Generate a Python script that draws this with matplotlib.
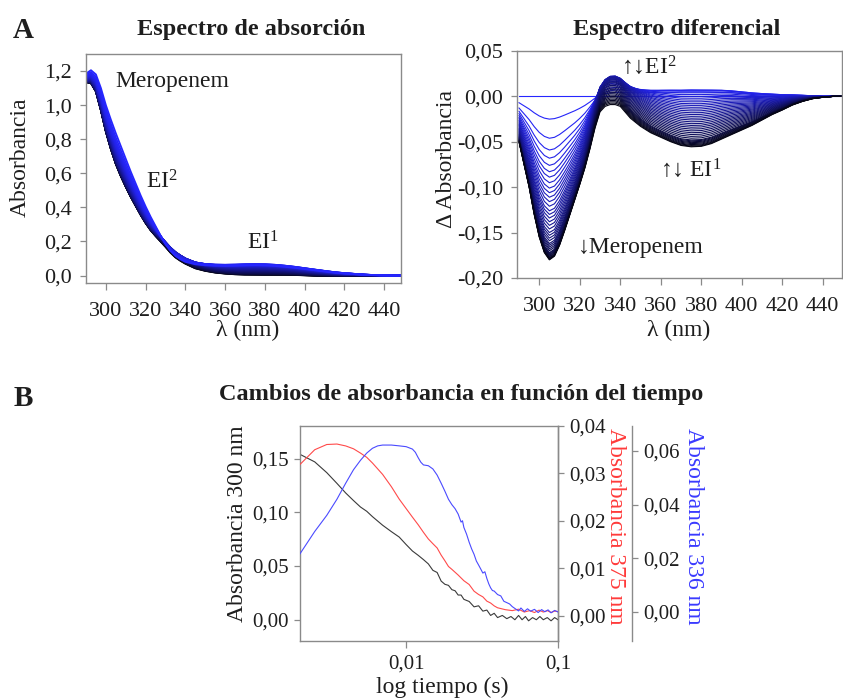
import numpy as np
import matplotlib
matplotlib.use("Agg")
import matplotlib.pyplot as plt
from matplotlib.ticker import FuncFormatter, FixedLocator, NullLocator

plt.rcParams['font.family'] = ['Liberation Serif', 'DejaVu Serif']
plt.rcParams['mathtext.fontset'] = 'custom'
plt.rcParams['mathtext.rm'] = 'Liberation Serif'
plt.rcParams['mathtext.it'] = 'Liberation Serif:italic'

# --- panel A: spectra -------------------------------------------------------
wl = [290, 292.5, 295, 297.5, 300, 302.5, 305, 307.5, 310, 312.5, 315, 317.5,
      320, 322.5, 325, 327.5, 330, 332.5, 335, 337.5, 340, 345, 350, 355, 360,
      365, 370, 375, 380, 385, 390, 395, 400, 405, 410, 415, 420, 425, 430,
      435, 440, 445, 450]

# first spectrum (meropenem)
spec_first = [1.185, 1.205, 1.18, 1.10, 1.00, 0.915, 0.835, 0.76, 0.685, 0.61,
              0.54, 0.47, 0.405, 0.345, 0.29, 0.235, 0.185, 0.145, 0.115, 0.095,
              0.080, 0.066, 0.060, 0.057, 0.056, 0.057, 0.059, 0.060, 0.059,
              0.056, 0.051, 0.045, 0.038, 0.031, 0.024, 0.017, 0.012, 0.008,
              0.004, 0.002, 0.001, 0.0, 0.0]

# difference at the end of the run (black curve)
diff_final = [-0.050, -0.075, -0.100, -0.130, -0.155, -0.172, -0.180, -0.176,
              -0.164, -0.148, -0.131, -0.114, -0.097, -0.079, -0.058, -0.035,
              -0.017, -0.011, -0.009, -0.009, -0.011, -0.024, -0.033, -0.040,
              -0.045, -0.050, -0.054, -0.0555, -0.055, -0.052, -0.047, -0.042,
              -0.037, -0.032, -0.026, -0.020, -0.015, -0.0095, -0.0055, -0.0025,
              -0.001, 0.0, 0.0]

# band of EI2 (336 nm) and EI1 (375 nm), peak = 1
band_ei2 = [0, 0, 0, 0, 0, 0, 0, 0, 0, 0, 0, 0.04, 0.10, 0.21, 0.37, 0.57, 0.77,
            0.93, 1.0, 0.96, 0.84, 0.60, 0.38, 0.21, 0.10, 0.04, 0.01, 0, 0, 0,
            0, 0, 0, 0, 0, 0, 0, 0, 0, 0, 0, 0, 0]
band_ei1 = [0, 0, 0, 0, 0, 0, 0, 0, 0, 0, 0, 0, 0.03, 0.08, 0.15, 0.23, 0.30,
            0.36, 0.40, 0.44, 0.48, 0.58, 0.68, 0.77, 0.85, 0.92, 0.97, 1.0,
            0.99, 0.95, 0.88, 0.79, 0.68, 0.57, 0.46, 0.36, 0.27, 0.19, 0.12,
            0.06, 0.02, 0.0, 0.0]

# amount of each species for every recorded spectrum
frac_mero = [0, 0.139, 0.256, 0.328, 0.378, 0.422, 0.461, 0.494, 0.528, 0.561,
             0.589, 0.617, 0.644, 0.672, 0.700, 0.722, 0.744, 0.767, 0.789,
             0.811, 0.833, 0.850, 0.867, 0.883, 0.900, 0.911, 0.922, 0.933,
             0.944, 0.956, 0.961, 0.967, 0.972, 0.978, 0.983, 0.989, 0.992,
             0.994, 0.997, 1.0]
amp_ei2 = [0, 0, 0, 0.0019, 0.0046, 0.0068, 0.0091, 0.0115, 0.0128, 0.0142,
           0.0156, 0.0166, 0.0175, 0.0179, 0.0183, 0.0184, 0.0184, 0.0184,
           0.0184, 0.0179, 0.0174, 0.0170, 0.0166, 0.0162, 0.0152, 0.0144,
           0.0135, 0.0127, 0.0118, 0.0110, 0.0102, 0.0094, 0.0082, 0.0071,
           0.0059, 0.0047, 0.0036, 0.0025, 0.0013, 0]
amp_ei1 = [0, 0.0127, 0.0212, 0.0252, 0.0270, 0.0274, 0.0276, 0.0274, 0.0273,
           0.0271, 0.0267, 0.0262, 0.0258, 0.0253, 0.0249, 0.0241, 0.0233,
           0.0226, 0.0218, 0.0210, 0.0203, 0.0192, 0.0181, 0.0170, 0.0160,
           0.0146, 0.0132, 0.0118, 0.0104, 0.0090, 0.0073, 0.0057, 0.0050,
           0.0043, 0.0036, 0.0029, 0.0020, 0.0012, 0.0005, 0]

# --- panel B: kinetics ------------------------------------------------------
t_300 = [0.002, 0.0025, 0.003, 0.0035, 0.004, 0.0045, 0.005, 0.0055, 0.006,
         0.007, 0.008, 0.009, 0.010, 0.011, 0.012, 0.013, 0.014, 0.015, 0.016,
         0.017, 0.018, 0.019, 0.020, 0.021, 0.022, 0.023, 0.024, 0.026, 0.028,
         0.030, 0.032, 0.034, 0.036, 0.038, 0.040, 0.043, 0.046, 0.049, 0.052,
         0.055, 0.058, 0.061, 0.064, 0.068, 0.072, 0.076, 0.080, 0.085, 0.090,
         0.095, 0.100]
abs_300 = [0.154, 0.147, 0.137, 0.127, 0.118, 0.111, 0.105, 0.101, 0.096,
           0.088, 0.082, 0.077, 0.070, 0.064, 0.060, 0.056, 0.052, 0.046,
           0.044, 0.036, 0.033, 0.032, 0.028, 0.027, 0.023, 0.023, 0.019,
           0.017, 0.012, 0.013, 0.008, 0.009, 0.004, 0.006, 0.002, 0.004,
           0.001, 0.003, 0.000, 0.004, 0.000, 0.003, -0.001, 0.002, 0.000,
           0.003, 0.000, 0.002, -0.001, 0.002, 0.000]

t_375 = [0.002, 0.0025, 0.003, 0.0035, 0.004, 0.0045, 0.005, 0.0055, 0.006,
         0.007, 0.008, 0.009, 0.010, 0.011, 0.012, 0.013, 0.014, 0.015, 0.016,
         0.017, 0.018, 0.019, 0.020, 0.022, 0.024, 0.026, 0.028, 0.030, 0.032,
         0.034, 0.036, 0.038, 0.040, 0.045, 0.050, 0.055, 0.060, 0.065, 0.070,
         0.075, 0.080, 0.085, 0.090, 0.095, 0.100]
abs_375 = [0.0319, 0.0350, 0.0361, 0.0362, 0.0358, 0.0352, 0.0343, 0.0334,
           0.0322, 0.0298, 0.0272, 0.0246, 0.0226, 0.0208, 0.0192, 0.0176,
           0.0162, 0.0152, 0.0143, 0.0128, 0.0116, 0.0104, 0.0098, 0.0086,
           0.0074, 0.0066, 0.0052, 0.0045, 0.0040, 0.0031, 0.0027, 0.0021,
           0.0017, 0.0013, 0.0011, 0.0014, 0.0008, 0.0011, 0.0007, 0.0012,
           0.0008, 0.0011, 0.0007, 0.0010, 0.0009]

t_336 = [0.002, 0.0025, 0.003, 0.0035, 0.004, 0.0045, 0.005, 0.0055, 0.006,
         0.0065, 0.007, 0.008, 0.009, 0.010, 0.011, 0.0115, 0.012, 0.0125,
         0.013, 0.014, 0.015, 0.016, 0.017, 0.018, 0.019, 0.020, 0.021, 0.022,
         0.023, 0.0235, 0.024, 0.025, 0.026, 0.027, 0.028, 0.029, 0.030, 0.031,
         0.032, 0.033, 0.034, 0.035, 0.036, 0.037, 0.038, 0.040, 0.042, 0.044,
         0.046, 0.048, 0.050, 0.053, 0.055, 0.057, 0.060, 0.063, 0.066, 0.070,
         0.074, 0.078, 0.082, 0.086, 0.090, 0.095, 0.100]
abs_336 = [0.0217, 0.0300, 0.0360, 0.0420, 0.0480, 0.0530, 0.0565, 0.0592,
           0.0610, 0.0619, 0.0622, 0.0622, 0.0619, 0.0616, 0.0607, 0.0595,
           0.0575, 0.0558, 0.0548, 0.0545, 0.0533, 0.0510, 0.0480, 0.0450,
           0.0420, 0.0400, 0.0385, 0.0365, 0.0335, 0.0340, 0.0315, 0.0290,
           0.0260, 0.0235, 0.0215, 0.0190, 0.0175, 0.0160, 0.0145, 0.0150,
           0.0125, 0.0105, 0.0090, 0.0080, 0.0078, 0.0065, 0.0060, 0.0040,
           0.0035, 0.0030, 0.0020, 0.0010, 0.0004, 0.0015, 0.0002, 0.0012,
           0.0003, 0.0010, -0.0002, 0.0009, 0.0001, 0.0008, -0.0003, 0.0006,
           0.0000]

# ---------------------------------------------------------------------------
W, H = 843, 699
fig = plt.figure(figsize=(W / 100, H / 100), dpi=100)

GRAY = '#8a8a8a'
TXT = '#1e1e1e'


def box(l, t, r, b):
    # axes rectangle from pixel edges
    return [l / W, 1 - b / H, (r - l) / W, (b - t) / H]


def comma(fmt):
    return FuncFormatter(lambda v, p: (fmt % v).replace('.', ','))


def style(ax, xpad=9, ypad=6, size=16):
    for s in ax.spines.values():
        s.set_color(GRAY)
        s.set_linewidth(1.0)
    ax.tick_params(axis='both', direction='out', color=GRAY, width=0.9,
                   labelsize=size, labelcolor=TXT)
    ax.tick_params(axis='x', length=5, pad=xpad)
    ax.tick_params(axis='y', length=4, pad=ypad)


diffs = (np.outer(frac_mero, diff_final) + np.outer(amp_ei2, band_ei2)
         + np.outer(amp_ei1, band_ei1))
spectra = np.array(spec_first) + diffs
n = len(frac_mero)
c0 = np.array([0.15, 0.15, 1.0])
c1 = np.array([0.02, 0.02, 0.08])
colors = [tuple(c0 + (c1 - c0) * k / (n - 1)) for k in range(n)]

# absorption spectra (late ones first, so the blue stays on top)
ax1 = fig.add_axes(box(86, 54, 401, 283))
for k in reversed(range(n)):
    ax1.plot(wl, spectra[k], color=colors[k], lw=1.3)
ax1.set_xlim(290, 448.5)
ax1.set_ylim(-0.044, 1.3)
ax1.xaxis.set_major_locator(FixedLocator(range(300, 441, 20)))
ax1.yaxis.set_major_locator(FixedLocator([0, 0.2, 0.4, 0.6, 0.8, 1.0, 1.2]))
ax1.yaxis.set_major_formatter(comma('%.1f'))
style(ax1)

# difference spectra
ax2 = fig.add_axes(box(517, 51, 842, 278))
for k in range(n):
    ax2.plot(wl, diffs[k], color=colors[k], lw=0.8)
ax2.set_xlim(289, 449.5)
ax2.set_ylim(-0.20, 0.05)
ax2.xaxis.set_major_locator(FixedLocator(range(300, 441, 20)))
ax2.yaxis.set_major_locator(FixedLocator([-0.20, -0.15, -0.10, -0.05, 0.0, 0.05]))
ax2.yaxis.set_major_formatter(comma('%.2f'))
style(ax2)

# kinetics at three wavelengths
ax3 = fig.add_axes(box(300, 426, 558, 641))
ax3r = ax3.twinx()
ax3b = ax3.twinx()
ax3b.spines['right'].set_position(('axes', (632 - 300) / (558 - 300)))
ax3.plot(t_300, abs_300, color='#3a3a3a', lw=0.8)
ax3r.plot(t_375, abs_375, color='#ff4a4a', lw=0.8)
ax3b.plot(t_336, abs_336, color='#4a4aff', lw=0.8)
ax3.set_xscale('log')
ax3.set_xlim(0.002, 0.1)
ax3.set_ylim(-0.0198, 0.1804)
ax3r.set_ylim(-0.0053, 0.04)
ax3b.set_ylim(-0.0108, 0.0693)
ax3.xaxis.set_major_locator(FixedLocator([0.01, 0.1]))
ax3.xaxis.set_minor_locator(NullLocator())
ax3.xaxis.set_major_formatter(FuncFormatter(lambda v, p: {0.01: '0,01', 0.1: '0,1'}.get(round(v, 4), '')))
ax3.yaxis.set_major_locator(FixedLocator([0, 0.05, 0.10, 0.15]))
ax3.yaxis.set_major_formatter(comma('%.2f'))
ax3r.yaxis.set_major_locator(FixedLocator([0, 0.01, 0.02, 0.03, 0.04]))
ax3r.yaxis.set_major_formatter(comma('%.2f'))
ax3b.yaxis.set_major_locator(FixedLocator([0, 0.02, 0.04, 0.06]))
ax3b.yaxis.set_major_formatter(comma('%.2f'))
for a in (ax3, ax3r, ax3b):
    style(a, xpad=5, ypad=4, size=15)
for a in (ax3r, ax3b):
    for s in ('left', 'top', 'bottom'):
        a.spines[s].set_visible(False)

# texts
def ftext(x, y, s, **kw):
    kw.setdefault('ha', 'center')
    kw.setdefault('va', 'center')
    kw.setdefault('color', TXT)
    fig.text(x / W, 1 - y / H, s, **kw)

ftext(23, 30, 'A', size=21, weight='bold')
ftext(23, 398, 'B', size=21, weight='bold')
ftext(251, 29, 'Espectro de absorción', size=17.5, weight='bold')
ftext(677, 29, 'Espectro diferencial', size=17.5, weight='bold')
ftext(461, 395, 'Cambios de absorbancia en función del tiempo', size=17.5, weight='bold')

ftext(20, 157, 'Absorbancia', size=17, rotation=90)
ftext(447, 159, 'Δ Absorbancia', size=17, rotation=90)
ftext(248, 330, 'λ (nm)', size=17)
ftext(679, 330, 'λ (nm)', size=17)

ftext(172, 82, 'Meropenem', size=17)
ftext(162, 182, r'EI$^{2}$', size=17)
ftext(263, 243, r'EI$^{1}$', size=17)
ftext(649, 67, r'↑↓EI$^{2}$', size=17)
ftext(691, 170, r'↑↓ EI$^{1}$', size=17)
ftext(641, 248, '↓Meropenem', size=17)

ftext(238, 524, 'Absorbancia 300 nm', size=17, rotation=90)
ftext(616, 526, 'Absorbancia 375 nm', size=17, rotation=270, color='#ff3a3a')
ftext(694, 526, 'Absorbancia 336 nm', size=17, rotation=270, color='#3a3aff')
ftext(442, 687, 'log tiempo (s)', size=17)

fig.savefig('out.png', dpi=100)
